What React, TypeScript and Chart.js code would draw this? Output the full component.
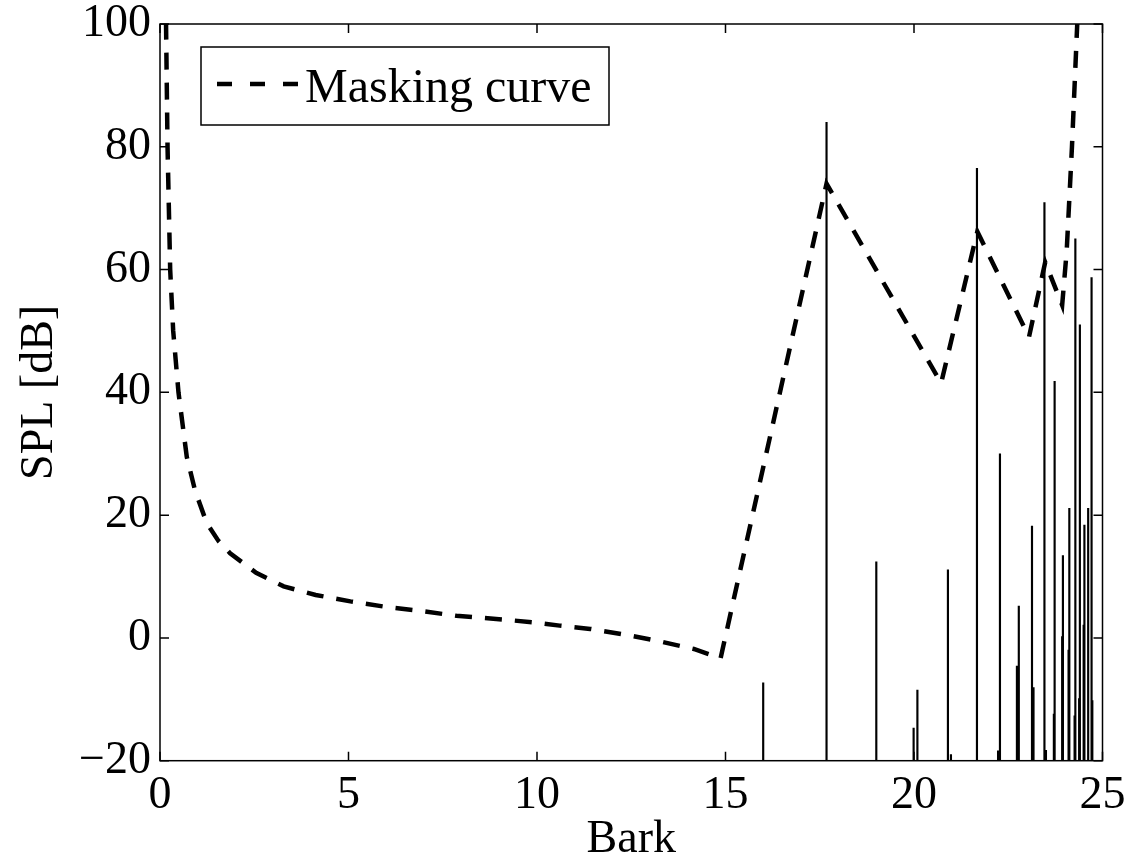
import React, { useEffect, useRef } from "react";
import { Chart, registerables } from "chart.js";

Chart.register(...registerables);

// Masking curve (Bark, dB SPL)
const maskBark = [
  0.14, 0.16, 0.2, 0.27, 0.35, 0.49, 0.71, 0.93, 1.24, 1.55, 1.86, 2.55, 3.28,
  4.13, 5.05, 6.0, 6.85, 7.86, 9.08, 9.89, 10.6, 11.41, 12.33, 13.24, 14.16,
  14.87, 17.68, 20.72, 21.68, 23.05, 23.48, 23.93, 24.05, 24.19, 24.33, 24.38,
];
const maskSpl = [
  110, 100, 80, 60, 50, 40, 29.5, 24, 18.7, 15.8, 13.8, 10.6, 8.4,
  7.0, 5.95, 5.05, 4.45, 3.6, 3.0, 2.55, 2.0, 1.47, 0.54, -0.54, -1.8,
  -3.3, 74, 41.5, 66.2, 49, 61.2, 54.2, 63, 80, 100, 108,
];

// Spectral components (stems)
const stemBark = [
  16.0, 17.68, 19.0, 19.99, 20.09, 20.9, 20.98, 21.67, 22.23, 22.28, 22.73,
  22.78, 23.13, 23.17, 23.46, 23.5, 23.71, 23.73, 23.93, 23.95, 24.1, 24.12,
  24.26, 24.28, 24.38, 24.4, 24.5, 24.52, 24.62, 24.71, 24.73,
];
const stemSpl = [
  -7.3, 84, 12.4, -14.7, -8.5, 11.1, -19, 76.5, -18.4, 30, -4.6,
  5.2, 18.2, -8.1, 70.9, -18.3, -12.4, 41.8, 0.2, 13.4, -2, 21.1,
  -12.7, 65, -9.9, 51, 2.1, 18.4, 21.1, 58.7, -10.2,
];

const xTickValues = [0, 5, 10, 15, 20, 25];
const yTickValues = [-20, 0, 20, 40, 60, 80, 100];
const legendLabel = "Masking curve";
const xTitle = "Bark";
const yTitle = "SPL [dB]";

const FONT = "'Liberation Serif', 'Times New Roman', Times, serif";

const zeroPadding = (s: any) => {
  s.paddingTop = 0;
  s.paddingBottom = 0;
  s.paddingLeft = 0;
  s.paddingRight = 0;
};

const framePlugin = {
  id: "matlabFrame",
  afterDatasetsDraw(chart: any) {
    const { ctx, chartArea: a, scales } = chart;
    ctx.save();
    ctx.strokeStyle = "#000";
    ctx.lineWidth = 1.5;
    ctx.setLineDash([]);
    ctx.strokeRect(a.left, a.top, a.right - a.left, a.bottom - a.top);
    const tl = 9;
    ctx.beginPath();
    for (const v of xTickValues) {
      const px = scales.x.getPixelForValue(v);
      ctx.moveTo(px, a.bottom);
      ctx.lineTo(px, a.bottom - tl);
      ctx.moveTo(px, a.top);
      ctx.lineTo(px, a.top + tl);
    }
    for (const v of yTickValues) {
      const py = scales.y.getPixelForValue(v);
      ctx.moveTo(a.left, py);
      ctx.lineTo(a.left + tl, py);
      ctx.moveTo(a.right, py);
      ctx.lineTo(a.right - tl, py);
    }
    ctx.stroke();

    // legend box
    const lx = a.left + 41;
    const ly = a.top + 23;
    const lw = 408;
    const lh = 78;
    ctx.fillStyle = "#fff";
    ctx.fillRect(lx, ly, lw, lh);
    ctx.lineWidth = 1.5;
    ctx.strokeRect(lx, ly, lw, lh);
    ctx.beginPath();
    ctx.lineWidth = 4.5;
    ctx.lineCap = "butt";
    ctx.setLineDash([15, 18]);
    ctx.moveTo(lx + 16, ly + 37);
    ctx.lineTo(lx + 97, ly + 37);
    ctx.stroke();
    ctx.setLineDash([]);
    ctx.fillStyle = "#000";
    ctx.font = `48px ${FONT}`;
    ctx.textBaseline = "middle";
    ctx.textAlign = "left";
    ctx.fillText(legendLabel, lx + 104, ly + 42);
    ctx.restore();
  },
};

export default function App() {
  const ref = useRef<HTMLCanvasElement | null>(null);

  useEffect(() => {
    if (!ref.current) return;
    Chart.defaults.font.family = FONT;
    const chart = new Chart(ref.current, {
      type: "bar",
      data: {
        datasets: [
          {
            type: "line",
            label: legendLabel,
            data: maskBark.map((b, i) => ({ x: b, y: maskSpl[i] })),
            borderColor: "#000",
            borderWidth: 4.5,
            borderDash: [17, 13],
            borderCapStyle: "butt",
            pointRadius: 0,
            tension: 0,
            fill: false,
            order: 0,
          } as any,
          {
            type: "bar",
            label: "Components",
            data: stemBark.map((b, i) => ({ x: b, y: stemSpl[i] })),
            backgroundColor: "#000",
            borderWidth: 0,
            barThickness: 1.5,
            base: -20,
            order: 1,
          } as any,
        ],
      },
      options: {
        animation: false,
        responsive: false,
        devicePixelRatio: 1,
        layout: { padding: { left: 0, top: 24, right: 29.5, bottom: 0 } },
        plugins: {
          legend: { display: false },
          tooltip: { enabled: false },
        },
        scales: {
          x: {
            type: "linear",
            min: 0,
            max: 25,
            offset: false,
            grid: { display: false, drawTicks: false },
            border: { display: false },
            afterBuildTicks: (s: any) => {
              s.ticks = xTickValues.map((v) => ({ value: v }));
            },
            afterFit: (s: any) => {
              s.height = 100.3;
              zeroPadding(s);
            },
            ticks: {
              color: "#000",
              padding: 12,
              maxRotation: 0,
              autoSkip: false,
              font: { family: FONT, size: 46, lineHeight: 1 },
            },
            title: {
              display: true,
              text: xTitle,
              color: "#000",
              font: { family: FONT, size: 46, lineHeight: 1 },
              padding: { top: 0, bottom: -2 },
            },
          },
          y: {
            type: "linear",
            min: -20,
            max: 100,
            grid: { display: false, drawTicks: false },
            border: { display: false },
            afterBuildTicks: (s: any) => {
              s.ticks = yTickValues.map((v) => ({ value: v }));
            },
            afterFit: (s: any) => {
              s.width = 160;
              zeroPadding(s);
            },
            ticks: {
              color: "#000",
              padding: 9,
              autoSkip: false,
              font: { family: FONT, size: 46, lineHeight: 1 },
              callback: (v: any) =>
                Number(v) < 0 ? "\u2212" + Math.abs(Number(v)) : String(v),
            },
            title: {
              display: true,
              text: yTitle,
              color: "#000",
              font: { family: FONT, size: 46, lineHeight: 1 },
              padding: { top: 17, bottom: 0 },
            },
          },
        },
      },
      plugins: [framePlugin],
    });
    return () => chart.destroy();
  }, []);

  return (
    <div
      style={{
        position: "absolute",
        left: 0,
        top: 0,
        width: 1132,
        height: 861,
        background: "#fff",
      }}
    >
      <canvas ref={ref} width={1132} height={861} />
    </div>
  );
}
